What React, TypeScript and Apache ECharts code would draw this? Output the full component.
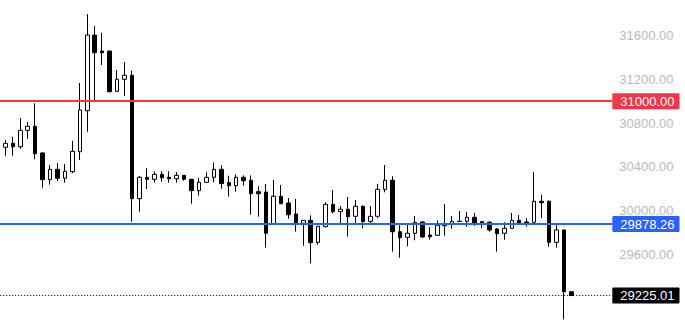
import React, { useEffect, useRef } from "react";
import * as echarts from "echarts";

// OHLC values (first candle is cut off at the left edge)
const openValues = [
  30590, 30579, 30615, 30584, 30734, 30771, 30527, 30283, 30378, 30296, 30356, 30539, 30913, 31604, 31458, 31458,
  31090, 31200, 31236, 30110, 30305, 30287, 30332, 30305, 30292, 30323, 30287, 30183, 30259, 30305, 30378, 30256,
  30228, 30305, 30278, 30174, 30171, 29881, 30132, 30070, 29970, 29885, 29912, 29711, 29854, 30058, 29991, 30013,
  29949, 30040, 29903, 29949, 30195, 30278, 29808, 29757, 29794, 29897, 29778, 29775, 29879, 29876, 29903, 29903,
  29940, 29900, 29894, 29833, 29794, 29839, 29912, 29897, 29894, 30086, 30086, 29711, 29824, 29260,
];
const closeValues = [
  30578, 30615, 30584, 30734, 30771, 30520, 30283, 30378, 30296, 30360, 30542, 30920, 31604, 31443, 31443, 31087,
  31200, 31236, 30110, 30305, 30287, 30332, 30301, 30292, 30323, 30287, 30183, 30259, 30305, 30378, 30247, 30228,
  30305, 30274, 30155, 30155, 29794, 30132, 30064, 29963, 29881, 29912, 29708, 29858, 30058, 29991, 30013, 29945,
  30040, 29900, 29949, 30195, 30278, 29808, 29753, 29794, 29894, 29760, 29763, 29867, 29863, 29903, 29901, 29940,
  29881, 29881, 29824, 29790, 29839, 29912, 29885, 29885, 30086, 30073, 29711, 29824, 29260, 29225.01,
];
const lowValues = [
  30570, 30502, 30502, 30566, 30657, 30469, 30210, 30237, 30271, 30256, 30344, 30463, 30721, 31005, 31331, 31080,
  31085, 31047, 29900, 29991, 30198, 30256, 30265, 30256, 30256, 30274, 30064, 30137, 30255, 30259, 30201, 30128,
  30174, 30228, 29963, 29945, 29662, 29875, 30060, 29927, 29808, 29680, 29520, 29690, 29848, 29976, 29876, 29763,
  29876, 29839, 29888, 29931, 30168, 29626, 29571, 29675, 29730, 29751, 29735, 29770, 29772, 29836, 29900, 29854,
  29863, 29839, 29808, 29626, 29735, 29835, 29869, 29854, 29890, 29931, 29671, 29662, 29008, 29222,
];
const highValues = [
  30600, 30646, 30676, 30847, 30810, 30981, 30536, 30417, 30436, 30426, 30639, 31166, 31796, 31687, 31623, 31460,
  31285, 31358, 31278, 30317, 30387, 30360, 30360, 30360, 30353, 30325, 30290, 30301, 30351, 30442, 30415, 30320,
  30332, 30323, 30323, 30223, 30244, 30280, 30235, 30116, 30107, 29915, 29958, 29860, 30077, 30189, 30043, 30125,
  30098, 30049, 30043, 30244, 30417, 30314, 29867, 29888, 29952, 29906, 29848, 29912, 30061, 29952, 29997, 29988,
  29979, 29906, 29906, 29839, 29894, 29979, 29961, 29931, 30353, 30146, 30095, 29867, 29830, 29262,
];

// Price levels marked on the chart
const redLevel = 31000;
const blueLevel = 29878.26;
const lastPrice = 29225.01;

// Y axis tick labels that are visible
const tickLabels = [29600, 30000, 30400, 30800, 31200, 31600];

// Category slots (candles plus empty space on the right)
const slotCount = 83;
const categories = Array.from({ length: slotCount }, (_, i) => String(i + 1));

export default function App() {
  const ref = useRef<HTMLDivElement>(null);

  useEffect(() => {
    document.body.style.margin = "0";
    if (!ref.current) return;
    const chart = echarts.init(ref.current, undefined, { renderer: "svg" });
    const candles = openValues.map((o, i) => [o, closeValues[i], lowValues[i], highValues[i]]);
    const font = "'Liberation Sans', Arial, sans-serif";
    const boxLabel = (bg: string) => ({
      show: true,
      position: "end",
      distance: 0,
      formatter: (p: any) => Number(p.value).toFixed(2),
      color: "#ffffff",
      backgroundColor: bg,
      fontFamily: font,
      fontSize: 13,
      lineHeight: 13,
      padding: [2, 5, 1, 8],
      borderRadius: 1,
    });
    chart.setOption({
      animation: false,
      backgroundColor: "#ffffff",
      grid: {
        left: -5.8,
        right: 72.7,
        top: -8.3,
        bottom: -17.1,
        containLabel: false,
        outerBoundsMode: "none",
      },
      xAxis: {
        type: "category",
        data: categories,
        boundaryGap: true,
        show: false,
      },
      yAxis: {
        type: "value",
        position: "right",
        min: 28800,
        max: 32000,
        interval: 400,
        splitLine: { show: false },
        axisLine: { show: false },
        axisTick: { show: false },
        axisLabel: {
          margin: 7,
          color: "#b8bac2",
          fontFamily: font,
          fontSize: 13,
          formatter: (v: number) => (tickLabels.includes(v) ? v.toFixed(2) : ""),
        },
      },
      series: [
        {
          type: "candlestick",
          data: candles,
          barWidth: 4,
          itemStyle: {
            color: "#ffffff",
            color0: "#000000",
            borderColor: "#000000",
            borderColor0: "#000000",
            borderWidth: 1,
          },
          markLine: {
            silent: true,
            symbol: ["none", "none"],
            animation: false,
            data: [
              {
                yAxis: redLevel,
                lineStyle: { color: "#f23645", width: 2, type: "solid" },
                label: boxLabel("#f23645"),
              },
              {
                yAxis: blueLevel,
                lineStyle: { color: "#2962ff", width: 2, type: "solid" },
                label: boxLabel("#2962ff"),
              },
              {
                yAxis: lastPrice,
                lineStyle: { color: "#000000", width: 1, type: [1, 2] },
                label: boxLabel("#000000"),
              },
            ],
          },
        },
      ],
    });
    return () => chart.dispose();
  }, []);

  return <div ref={ref} style={{ width: 685, height: 325 }} />;
}
